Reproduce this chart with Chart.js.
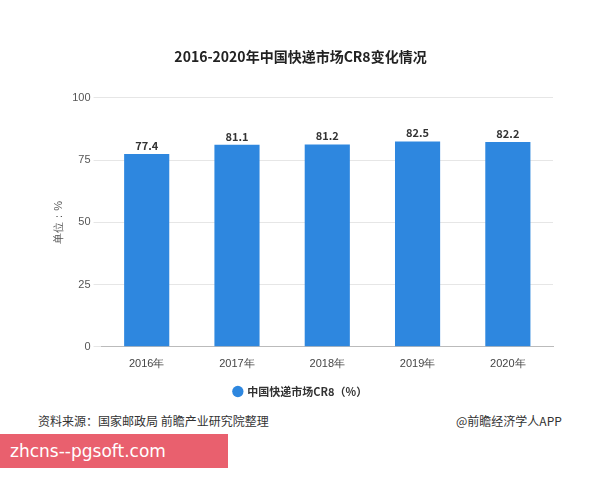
<!DOCTYPE html>
<html><head><meta charset="utf-8">
<script src="https://cdn.jsdelivr.net/npm/chart.js@4/dist/chart.umd.min.js"></script>
<style>
body{margin:0;background:#fff;font-family:"Noto Sans CJK SC","Noto Sans",sans-serif;}
#wrap{position:relative;width:600px;height:480px;}
#c{position:absolute;left:0;top:0;}
.t{position:absolute;font-size:12px;color:#333;}
#pink{position:absolute;left:0;top:434px;width:228px;height:34px;background:#e9606e;color:#fff;font-size:17px;line-height:34px;padding-left:10px;box-sizing:border-box;font-family:"DejaVu Sans",sans-serif;}
</style></head><body>
<div id="wrap">
<canvas id="c" width="600" height="407"></canvas>
<div class="t" style="left:38px;top:412px;">资料来源：国家邮政局 前瞻产业研究院整理</div>
<div class="t" style="left:456px;top:412px;">@前瞻经济学人APP</div>
<div id="pink">zhcns--pgsoft.com</div>
</div>
<script>
const categories=["2016年","2017年","2018年","2019年","2020年"];
const cr8=[77.4,81.1,81.2,82.5,82.2];
const yTicks=[0,25,50,75,100];
const lbl={id:'lbl',afterDatasetsDraw(ch){const ctx=ch.ctx;ctx.save();ctx.font='bold 11px "Noto Sans CJK SC"';ctx.fillStyle='#333';ctx.textAlign='center';ctx.textBaseline='bottom';
ch.getDatasetMeta(0).data.forEach((b,i)=>ctx.fillText(cr8[i].toFixed(1),b.x,b.y-3));ctx.restore();}};
new Chart(document.getElementById('c'),{type:'bar',
data:{labels:categories,datasets:[{label:'中国快递市场CR8（%）',data:cr8,backgroundColor:'#2e87df',barPercentage:0.5,categoryPercentage:1}]},
options:{responsive:false,animation:false,
layout:{padding:{left:48,right:47,top:10,bottom:0}},
plugins:{title:{display:true,text:'2016-2020年中国快递市场CR8变化情况',color:'#222',font:{size:14,weight:'bold',family:'"Noto Sans CJK SC"'},padding:{top:38,bottom:33}},
legend:{position:'bottom',labels:{usePointStyle:true,pointStyle:'circle',boxWidth:8,boxHeight:8,color:'#333',font:{size:11,weight:'bold',family:'"Noto Sans CJK SC"'},padding:12}},tooltip:{enabled:false}},
scales:{x:{grid:{display:false},border:{color:'#bbb'},ticks:{color:'#444',font:{size:11}}},
y:{min:0,max:100,afterBuildTicks(a){a.ticks=yTicks.map(v=>({value:v}));},grid:{color:'#e6e6e6'},border:{display:false},ticks:{color:'#555',font:{size:11}},
title:{display:true,text:'单位：%',color:'#555',font:{size:11}}}}},
plugins:[lbl]});
</script></body></html>
